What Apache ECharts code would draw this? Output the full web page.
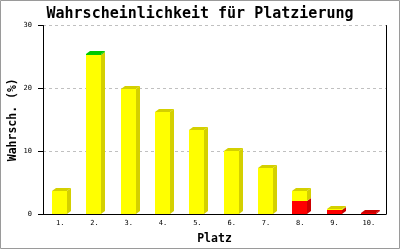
<!DOCTYPE html>
<html><head><meta charset="utf-8">
<script src="https://cdn.jsdelivr.net/npm/echarts@6/dist/echarts.min.js"></script>
<style>html,body{margin:0;padding:0;background:#fff}#c{width:400px;height:250px}</style>
</head><body><div id="c"></div>
<script>
const categories = ["1.","2.","3.","4.","5.","6.","7.","8.","9.","10."];
const redValues    = [0, 0, 0, 0, 0, 0, 0, 2.1, 0.7, 0.1];
const yellowValues = [3.7, 25.3, 19.9, 16.3, 13.3, 10.1, 7.3, 1.6, 0.1, 0];
const greenValues  = [0, 0.2, 0, 0, 0, 0, 0, 0, 0, 0];
const yTicks = [0, 10, 20, 30];

const fronts = ["#FF0000", "#FFFF00", "#00CC00"];
const sides  = ["#CC0000", "#D4D000", "#00C800"];

const data = categories.map((c, i) => [i, redValues[i], yellowValues[i], greenValues[i]]);

const chart = echarts.init(document.getElementById('c'), null, {renderer: 'canvas'});
chart.setOption({
  animation: false,
  backgroundColor: '#fff',
  title: {
    text: 'Wahrscheinlichkeit für Platzierung',
    left: 'center', top: 2,
    textStyle: {fontFamily: 'DejaVu Sans Mono', fontWeight: 'bold', fontSize: 15, color: '#000'}
  },
  grid: {left: 43, right: 14, top: 25.5, bottom: 36, containLabel: false, outerBoundsMode: 'none'},
  xAxis: {
    type: 'category', data: categories, boundaryGap: true,
    name: 'Platz', nameLocation: 'middle', nameGap: 19, nameMoveOverlap: false,
    nameTextStyle: {fontFamily: 'DejaVu Sans Mono', fontWeight: 'bold', fontSize: 11.5, color: '#000'},
    axisLine: {lineStyle: {color: '#000', width: 1}},
    axisTick: {show: false},
    axisLabel: {fontFamily: 'DejaVu Sans Mono', fontSize: 7, color: '#000', margin: 6}
  },
  yAxis: [{
    type: 'value', min: yTicks[0], max: yTicks[yTicks.length - 1], interval: 10,
    name: 'Wahrsch. (%)', nameLocation: 'middle', nameGap: 24, nameRotate: 90, nameMoveOverlap: false,
    nameTextStyle: {fontFamily: 'DejaVu Sans Mono', fontWeight: 'bold', fontSize: 11.5, color: '#000'},
    axisLine: {show: true, lineStyle: {color: '#000', width: 1}},
    axisTick: {show: true, length: 5, lineStyle: {color: '#000'}},
    axisLabel: {fontFamily: 'DejaVu Sans Mono', fontSize: 7, color: '#000', margin: 11},
    splitLine: {show: true, lineStyle: {color: '#C0C0C0', type: [3, 3], width: 1}}
  }, {
    type: 'value', position: 'right', min: 0, max: 30, interval: 10,
    axisLine: {show: true, lineStyle: {color: '#000', width: 1}},
    axisTick: {show: false}, axisLabel: {show: false}, splitLine: {show: false}
  }],
  graphic: [{
    type: 'rect', shape: {x: 0.5, y: 0.5, width: 399, height: 248},
    style: {fill: null, stroke: '#9A9A9A', lineWidth: 1}, z: 100
  }],
  series: [{
    type: 'custom',
    data: data,
    encode: {x: 0, y: [1, 2, 3]},
    renderItem: function (params, api) {
      const i = api.value(0);
      const vals = [api.value(1), api.value(2), api.value(3)];
      const cx = api.coord([i, 0])[0];
      const w = 15, dx = 4, dy = 3;
      const x0 = Math.round(cx - 8), x1 = x0 + w;
      let topIdx = -1;
      vals.forEach((v, k) => { if (v > 0) topIdx = k; });
      const children = [];
      let cum = 0;
      for (let k = 0; k < 3; k++) {
        if (!(vals[k] > 0)) continue;
        const yb = Math.round(api.coord([i, cum])[1]);
        cum += vals[k];
        const yt = Math.round(api.coord([i, cum])[1]);
        children.push({type: 'rect', shape: {x: x0, y: yt, width: w, height: yb - yt}, style: {fill: fronts[k]}});
        children.push({type: 'polygon', shape: {points: [[x1, yb], [x1 + dx, yb - dy], [x1 + dx, yt - dy], [x1, yt]]}, style: {fill: sides[k]}});
        if (k === topIdx) {
          children.push({type: 'polygon', shape: {points: [[x0, yt], [x0 + dx, yt - dy], [x1 + dx, yt - dy], [x1, yt]]}, style: {fill: sides[k]}});
        }
      }
      return {type: 'group', children: children};
    }
  }]
});
</script></body></html>
